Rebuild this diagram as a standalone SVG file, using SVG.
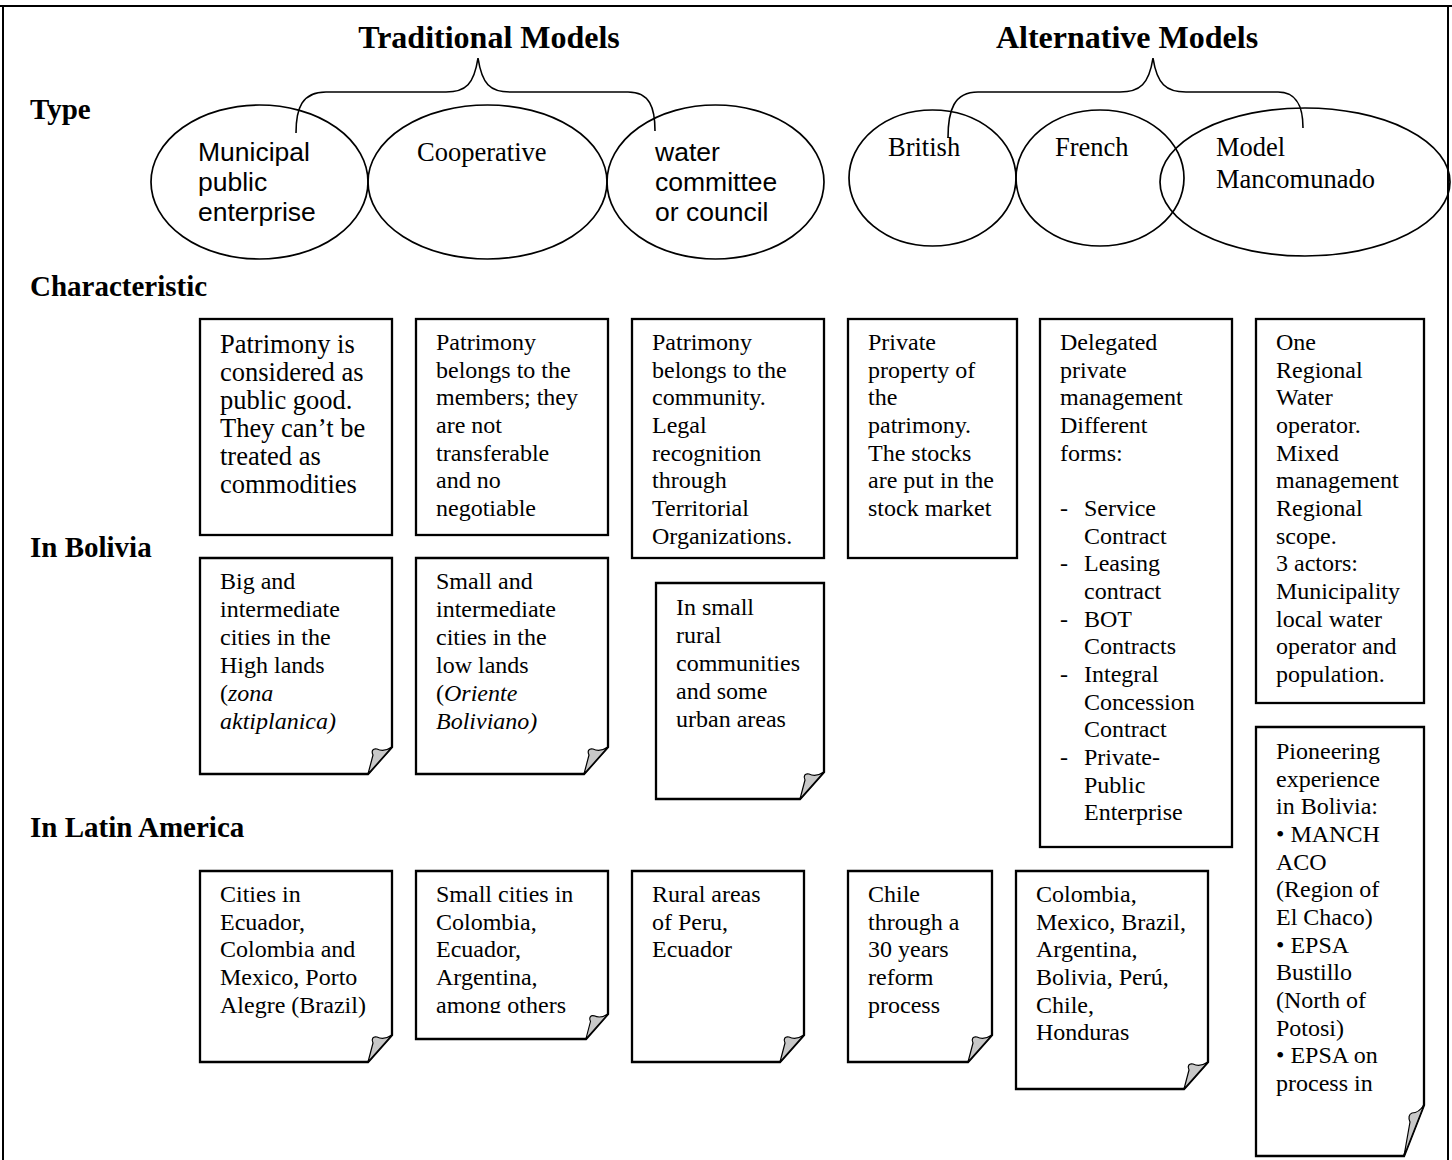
<svg xmlns="http://www.w3.org/2000/svg" width="1452" height="1160" viewBox="0 0 1452 1160">
  <defs>
    <style>
      .frame{fill:none;stroke:#000;stroke-width:2}
      .ell{fill:none;stroke:#000;stroke-width:1.7}
      .brace{fill:none;stroke:#000;stroke-width:1.6}
      .box{fill:#fff;stroke:#000;stroke-width:2.3}
      .curl{fill:#c8c8c8;stroke:#000;stroke-width:1.2;stroke-linejoin:round}
      .hd{font-family:"Liberation Serif",serif;font-weight:bold;font-size:32px}
      .lbl{font-family:"Liberation Serif",serif;font-weight:bold;font-size:29px}
      .sans{font-family:"Liberation Sans",sans-serif;font-size:26.5px}
      .ser{font-family:"Liberation Serif",serif;font-size:26.5px}
      .t{font-family:"Liberation Serif",serif;font-size:24px}
      .it{font-style:italic}
    </style>
    <!-- paper curl drawn at the folded corner of a note -->
    <path id="curl" class="curl" d="M0,0 C-6,4 -11,4 -15,2 C-19,1 -21,4 -19,8 L-24,27 Z"/>
    <path id="curlTall" class="curl" d="M0,0 C-4,6 -8,8 -12,8 C-15,9 -16,13 -14,17 L-20,51 Z"/>
    <clipPath id="clipL2"><rect x="416" y="871" width="192" height="142"/></clipPath>
  </defs>

  <rect width="1452" height="1160" fill="#fff"/>

  <!-- page frame -->
  <path class="frame" d="M0,6 H1452 M3,6 V1160 M1448,6 V1160"/>

  <!-- group headings -->
  <text class="hd" x="489" y="48" text-anchor="middle">Traditional Models</text>
  <text class="hd" x="1127" y="48" text-anchor="middle">Alternative Models</text>

  <!-- row labels -->
  <text class="lbl" x="30" y="119">Type</text>
  <text class="lbl" x="30" y="296">Characteristic</text>
  <text class="lbl" x="30" y="557">In Bolivia</text>
  <text class="lbl" x="30" y="837">In Latin America</text>

  <!-- model types -->
  <g id="type-municipal">
    <ellipse class="ell" cx="259.5" cy="182" rx="108.5" ry="77"/>
    <text class="sans"><tspan x="198" y="161">Municipal</tspan><tspan x="198" y="191">public</tspan><tspan x="198" y="221">enterprise</tspan></text>
  </g>
  <g id="type-cooperative">
    <ellipse class="ell" cx="487.5" cy="182" rx="119.5" ry="77"/>
    <text class="ser" x="417" y="161">Cooperative</text>
  </g>
  <g id="type-committee">
    <ellipse class="ell" cx="715.5" cy="182" rx="108.5" ry="77"/>
    <text class="sans"><tspan x="655" y="161">water</tspan><tspan x="655" y="191">committee</tspan><tspan x="655" y="221">or council</tspan></text>
  </g>
  <g id="type-british">
    <ellipse class="ell" cx="932.5" cy="178" rx="83.5" ry="68"/>
    <text class="ser" x="888" y="156">British</text>
  </g>
  <g id="type-french">
    <ellipse class="ell" cx="1100" cy="178" rx="84" ry="68"/>
    <text class="ser" x="1055" y="156">French</text>
  </g>
  <g id="type-mancomunado">
    <ellipse class="ell" cx="1305" cy="182" rx="145" ry="74"/>
    <text class="ser"><tspan x="1216" y="156">Model</tspan><tspan x="1216" y="188">Mancomunado</tspan></text>
  </g>

  <!-- grouping braces -->
  <g id="connectors">
    <path class="brace" d="M296,133 C296,108 302,92 326,92 L446,92 C466,92 474,84 478,58 C482,84 490,92 510,92 L628,92 C650,92 655,108 655,131"/>
    <path class="brace" d="M948,138 C948,110 954,92 978,92 L1120,92 C1140,92 1149,84 1153,58 C1157,84 1166,92 1186,92 L1278,92 C1298,92 1303,108 1303,128"/>
  </g>

  <!-- characteristics -->
  <g id="char-municipal">
    <rect class="box" x="200" y="319" width="192" height="216"/>
    <text class="ser"><tspan x="220" y="353">Patrimony is</tspan><tspan x="220" y="381">considered as</tspan><tspan x="220" y="409">public good.</tspan><tspan x="220" y="437">They can’t be</tspan><tspan x="220" y="465">treated as</tspan><tspan x="220" y="493">commodities</tspan></text>
  </g>
  <g id="char-cooperative">
    <rect class="box" x="416" y="319" width="192" height="216"/>
    <text class="t"><tspan x="436" y="350">Patrimony</tspan><tspan x="436" y="377.7">belongs to the</tspan><tspan x="436" y="405.3">members; they</tspan><tspan x="436" y="433">are not</tspan><tspan x="436" y="460.6">transferable</tspan><tspan x="436" y="488.3">and no</tspan><tspan x="436" y="516">negotiable</tspan></text>
  </g>
  <g id="char-committee">
    <rect class="box" x="632" y="319" width="192" height="239"/>
    <text class="t"><tspan x="652" y="350">Patrimony</tspan><tspan x="652" y="377.7">belongs to the</tspan><tspan x="652" y="405.3">community.</tspan><tspan x="652" y="433">Legal</tspan><tspan x="652" y="460.6">recognition</tspan><tspan x="652" y="488.3">through</tspan><tspan x="652" y="516">Territorial</tspan><tspan x="652" y="543.6">Organizations.</tspan></text>
  </g>
  <g id="char-british">
    <rect class="box" x="848" y="319" width="169" height="239"/>
    <text class="t"><tspan x="868" y="350">Private</tspan><tspan x="868" y="377.7">property of</tspan><tspan x="868" y="405.3">the</tspan><tspan x="868" y="433">patrimony.</tspan><tspan x="868" y="460.6">The stocks</tspan><tspan x="868" y="488.3">are put in the</tspan><tspan x="868" y="516">stock market</tspan></text>
  </g>
  <g id="char-french">
    <rect class="box" x="1040" y="319" width="192" height="528"/>
    <text class="t"><tspan x="1060" y="350">Delegated</tspan><tspan x="1060" y="377.7">private</tspan><tspan x="1060" y="405.3">management</tspan><tspan x="1060" y="433">Different</tspan><tspan x="1060" y="460.6">forms:</tspan><tspan x="1060" y="515.9">-</tspan><tspan x="1084" y="515.9">Service</tspan><tspan x="1084" y="543.6">Contract</tspan><tspan x="1060" y="571.2">-</tspan><tspan x="1084" y="571.2">Leasing</tspan><tspan x="1084" y="598.9">contract</tspan><tspan x="1060" y="626.5">-</tspan><tspan x="1084" y="626.5">BOT</tspan><tspan x="1084" y="654.2">Contracts</tspan><tspan x="1060" y="681.9">-</tspan><tspan x="1084" y="681.9">Integral</tspan><tspan x="1084" y="709.5">Concession</tspan><tspan x="1084" y="737.2">Contract</tspan><tspan x="1060" y="764.8">-</tspan><tspan x="1084" y="764.8">Private-</tspan><tspan x="1084" y="792.5">Public</tspan><tspan x="1084" y="820.1">Enterprise</tspan></text>
  </g>
  <g id="char-mancomunado">
    <rect class="box" x="1256" y="319" width="168" height="384"/>
    <text class="t"><tspan x="1276" y="350">One</tspan><tspan x="1276" y="377.7">Regional</tspan><tspan x="1276" y="405.3">Water</tspan><tspan x="1276" y="433">operator.</tspan><tspan x="1276" y="460.6">Mixed</tspan><tspan x="1276" y="488.3">management</tspan><tspan x="1276" y="516">Regional</tspan><tspan x="1276" y="543.6">scope.</tspan><tspan x="1276" y="571.2">3 actors:</tspan><tspan x="1276" y="598.9">Municipality</tspan><tspan x="1276" y="626.5">local water</tspan><tspan x="1276" y="654.2">operator and</tspan><tspan x="1276" y="681.9">population.</tspan></text>
  </g>

  <!-- Bolivia notes -->
  <g id="bol-municipal">
    <path class="box" d="M200,558 H392 V747 L368,774 H200 Z"/>
    <use href="#curl" transform="translate(392,747)"/>
    <text class="t"><tspan x="220" y="589">Big and</tspan><tspan x="220" y="617">intermediate</tspan><tspan x="220" y="645">cities in the</tspan><tspan x="220" y="673">High lands</tspan><tspan x="220" y="701">(<tspan class="it">zona</tspan></tspan><tspan x="220" y="729" class="it">aktiplanica)</tspan></text>
  </g>
  <g id="bol-cooperative">
    <path class="box" d="M416,558 H608 V747 L584,774 H416 Z"/>
    <use href="#curl" transform="translate(608,747)"/>
    <text class="t"><tspan x="436" y="589">Small and</tspan><tspan x="436" y="617">intermediate</tspan><tspan x="436" y="645">cities in the</tspan><tspan x="436" y="673">low lands</tspan><tspan x="436" y="701">(<tspan class="it">Oriente</tspan></tspan><tspan x="436" y="729" class="it">Boliviano)</tspan></text>
  </g>
  <g id="bol-committee">
    <path class="box" d="M656,583 H824 V772 L800,799 H656 Z"/>
    <use href="#curl" transform="translate(824,772)"/>
    <text class="t"><tspan x="676" y="615">In small</tspan><tspan x="676" y="643">rural</tspan><tspan x="676" y="671">communities</tspan><tspan x="676" y="699">and some</tspan><tspan x="676" y="727">urban areas</tspan></text>
  </g>
  <g id="bol-mancomunado">
    <path class="box" d="M1256,727 H1424 V1105 L1404,1156 H1256 Z"/>
    <use href="#curlTall" transform="translate(1424,1105)"/>
    <text class="t"><tspan x="1276" y="759">Pioneering</tspan><tspan x="1276" y="786.7">experience</tspan><tspan x="1276" y="814.3">in Bolivia:</tspan><tspan x="1276" y="842">•  MANCH</tspan><tspan x="1276" y="869.6">ACO</tspan><tspan x="1276" y="897.3">(Region of</tspan><tspan x="1276" y="925">El Chaco)</tspan><tspan x="1276" y="952.6">•  EPSA</tspan><tspan x="1276" y="980.2">Bustillo</tspan><tspan x="1276" y="1007.9">(North of</tspan><tspan x="1276" y="1035.5">Potosi)</tspan><tspan x="1276" y="1063.2">•  EPSA on</tspan><tspan x="1276" y="1090.8">process in</tspan></text>
  </g>

  <!-- Latin America notes -->
  <g id="lat-municipal">
    <path class="box" d="M200,871 H392 V1035 L368,1062 H200 Z"/>
    <use href="#curl" transform="translate(392,1035)"/>
    <text class="t"><tspan x="220" y="902">Cities in</tspan><tspan x="220" y="929.7">Ecuador,</tspan><tspan x="220" y="957.4">Colombia and</tspan><tspan x="220" y="985">Mexico, Porto</tspan><tspan x="220" y="1012.8">Alegre (Brazil)</tspan></text>
  </g>
  <g id="lat-cooperative">
    <path class="box" d="M416,871 H608 V1014 L586,1039 H416 Z"/>
    <use href="#curl" transform="translate(608,1014) scale(0.92)"/>
    <text class="t" clip-path="url(#clipL2)"><tspan x="436" y="902">Small cities in</tspan><tspan x="436" y="929.7">Colombia,</tspan><tspan x="436" y="957.4">Ecuador,</tspan><tspan x="436" y="985">Argentina,</tspan><tspan x="436" y="1012.8">among others</tspan></text>
  </g>
  <g id="lat-committee">
    <path class="box" d="M632,871 H804 V1035 L780,1062 H632 Z"/>
    <use href="#curl" transform="translate(804,1035)"/>
    <text class="t"><tspan x="652" y="902">Rural areas</tspan><tspan x="652" y="929.7">of Peru,</tspan><tspan x="652" y="957.4">Ecuador</tspan></text>
  </g>
  <g id="lat-british">
    <path class="box" d="M848,871 H992 V1035 L968,1062 H848 Z"/>
    <use href="#curl" transform="translate(992,1035)"/>
    <text class="t"><tspan x="868" y="902">Chile</tspan><tspan x="868" y="929.7">through a</tspan><tspan x="868" y="957.4">30 years</tspan><tspan x="868" y="985">reform</tspan><tspan x="868" y="1012.8">process</tspan></text>
  </g>
  <g id="lat-french">
    <path class="box" d="M1016,871 H1208 V1062 L1184,1089 H1016 Z"/>
    <use href="#curl" transform="translate(1208,1062)"/>
    <text class="t"><tspan x="1036" y="902">Colombia,</tspan><tspan x="1036" y="929.7">Mexico, Brazil,</tspan><tspan x="1036" y="957.4">Argentina,</tspan><tspan x="1036" y="985">Bolivia, Perú,</tspan><tspan x="1036" y="1012.8">Chile,</tspan><tspan x="1036" y="1040.4">Honduras</tspan></text>
  </g>
</svg>
